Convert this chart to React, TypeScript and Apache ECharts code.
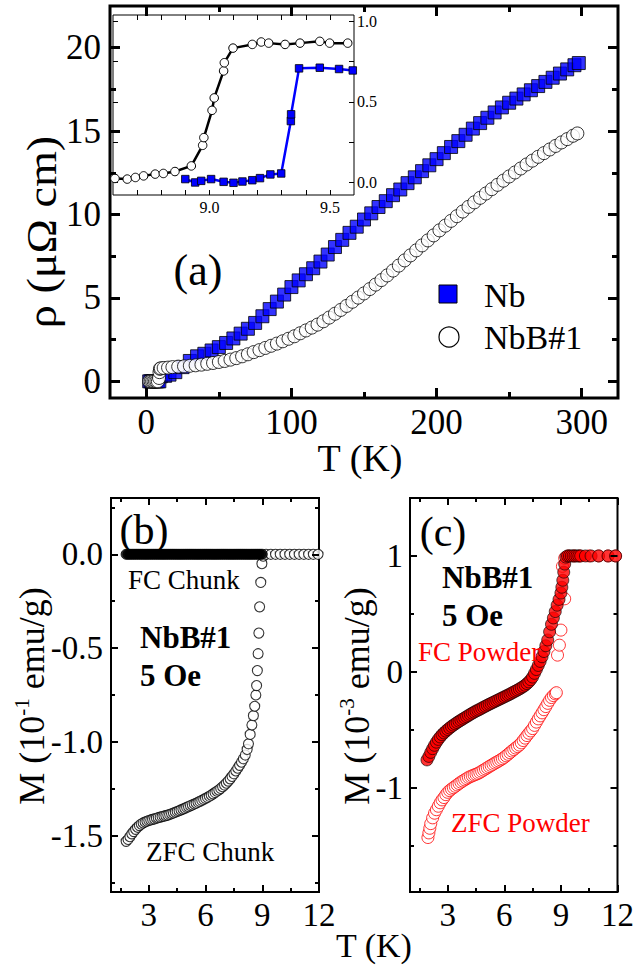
import React, { useEffect, useRef } from "react";
import * as echarts from "echarts";

const FONT = "Liberation Serif";

// ---------- Panel (a): resistivity vs T ----------
const nbRho: number[][] = [
  [2, 0], [3, 0], [4, 0], [5, 0], [6, 0], [7, 0], [8, 0], [9, 0],
  [10, 0.3], [13, 0.33], [16, 0.4], [20, 0.55], [25, 0.85], [30, 1.22], [35, 1.5], [40, 1.65],
  [45, 1.85], [50, 2.05], [55, 2.3], [60, 2.57], [65, 2.86], [70, 3.15], [75, 3.5], [80, 3.9],
  [85, 4.33], [90, 4.78], [95, 5.2], [100, 5.65], [105, 6.05], [110, 6.42], [115, 6.78], [120, 7.18],
  [125, 7.6], [130, 8.05], [135, 8.48], [140, 8.9], [145, 9.27], [150, 9.7], [155, 10.07], [160, 10.45],
  [165, 10.8], [170, 11.16], [175, 11.5], [180, 11.88], [185, 12.23], [190, 12.6], [195, 12.95], [200, 13.32],
  [205, 13.68], [210, 14.05], [215, 14.4], [220, 14.78], [225, 15.15], [230, 15.48], [235, 15.8], [240, 16.12],
  [245, 16.42], [250, 16.7], [255, 16.95], [260, 17.2], [265, 17.45], [270, 17.7], [275, 17.95], [280, 18.2],
  [285, 18.45], [290, 18.7], [295, 18.95], [298, 19.08],
];

const nbbRho: number[][] = [
  [2, 0], [3, 0], [4, 0], [5, 0], [6, 0], [7, 0], [8, 0], [8.8, 0.2], [9.1, 0.55], [9.4, 0.75],
  [10, 0.78], [12, 0.8], [15, 0.82], [18, 0.85], [22, 0.88], [26, 0.9], [30, 0.93], [34, 0.96],
  [38, 1.0], [42, 1.05], [46, 1.1], [50, 1.16], [54, 1.22], [58, 1.3], [62, 1.39], [66, 1.5],
  [70, 1.62], [74, 1.75], [78, 1.87], [82, 2.0], [86, 2.13], [90, 2.26], [94, 2.4], [98, 2.55],
  [102, 2.7], [106, 2.88], [110, 3.05], [114, 3.22], [118, 3.4], [122, 3.6], [126, 3.82], [130, 4.05],
  [134, 4.28], [138, 4.52], [142, 4.77], [146, 5.02], [150, 5.27], [154, 5.53], [158, 5.8], [162, 6.07],
  [166, 6.35], [170, 6.64], [174, 6.94], [178, 7.25], [182, 7.55], [186, 7.85], [190, 8.15], [194, 8.45],
  [198, 8.75], [202, 9.05], [206, 9.33], [210, 9.62], [214, 9.9], [218, 10.18], [222, 10.46], [226, 10.73],
  [230, 11.0], [234, 11.26], [238, 11.52], [242, 11.78], [246, 12.03], [250, 12.28], [254, 12.52], [258, 12.76],
  [262, 13.0], [266, 13.23], [270, 13.46], [274, 13.68], [278, 13.9], [282, 14.11], [286, 14.32], [290, 14.52],
  [294, 14.72], [297, 14.86],
];

// inset (normalised resistance near Tc)
const insetNbB: number[][] = [
  [8.608, 0.023], [8.659, 0.019], [8.693, 0.029], [8.727, 0.039], [8.775, 0.05], [8.809, 0.054],
  [8.857, 0.066], [8.925, 0.101], [8.972, 0.229], [8.977, 0.277], [9.011, 0.447], [9.02, 0.524],
  [9.059, 0.692], [9.062, 0.743], [9.098, 0.834], [9.178, 0.857], [9.215, 0.872], [9.246, 0.865],
  [9.314, 0.857], [9.376, 0.865], [9.458, 0.876], [9.499, 0.865], [9.574, 0.865],
];
const insetNb: number[][] = [
  [8.9, 0.019], [8.941, -0.002], [8.966, 0.008], [9.007, 0.019], [9.059, 0.002], [9.1, -0.004],
  [9.137, 0.004], [9.178, 0.012], [9.21, 0.025], [9.253, 0.048], [9.298, 0.054], [9.338, 0.38],
  [9.339, 0.422], [9.372, 0.708], [9.458, 0.712], [9.538, 0.704], [9.595, 0.695],
];

// ---------- Panel (b): chunk magnetisation (10^-1 emu/g) ----------
const zfcChunk: number[][] = [
  [1.8, -1.53], [1.9, -1.52], [2.0, -1.505], [2.1, -1.49], [2.2, -1.478], [2.3, -1.466], [2.4, -1.455],
  [2.5, -1.446], [2.6, -1.438], [2.7, -1.432], [2.8, -1.427], [2.9, -1.423], [3.0, -1.419], [3.1, -1.416],
  [3.2, -1.413], [3.3, -1.41], [3.4, -1.407], [3.5, -1.404], [3.6, -1.401], [3.7, -1.398], [3.8, -1.396],
  [3.9, -1.393], [4.0, -1.39], [4.1, -1.387], [4.2, -1.383], [4.3, -1.379], [4.4, -1.375], [4.5, -1.371],
  [4.6, -1.367], [4.7, -1.362], [4.8, -1.358], [4.9, -1.354], [5.0, -1.349], [5.1, -1.345], [5.2, -1.34],
  [5.3, -1.336], [5.4, -1.331], [5.5, -1.327], [5.6, -1.322], [5.7, -1.317], [5.8, -1.312], [5.9, -1.307],
  [6.0, -1.301], [6.1, -1.296], [6.2, -1.29], [6.3, -1.284], [6.4, -1.277], [6.5, -1.27], [6.6, -1.263],
  [6.7, -1.256], [6.8, -1.248], [6.9, -1.239], [7.0, -1.23], [7.1, -1.22], [7.2, -1.209], [7.3, -1.197],
  [7.4, -1.184], [7.5, -1.17], [7.6, -1.155], [7.7, -1.14], [7.8, -1.125], [7.9, -1.108], [8.0, -1.09],
  [8.1, -1.07], [8.2, -1.04], [8.27, -1.01], [8.36, -0.96], [8.45, -0.91], [8.53, -0.86], [8.6, -0.81],
  [8.66, -0.75], [8.7, -0.7], [8.74, -0.62], [8.78, -0.53], [8.82, -0.42], [8.86, -0.28], [8.92, -0.15],
  [8.98, -0.05], [9.05, -0.01], [9.2, 0], [9.45, 0], [9.7, 0], [9.95, 0], [10.2, 0], [10.45, 0],
  [10.7, 0], [10.95, 0], [11.2, 0], [11.45, 0], [11.7, 0], [11.95, 0],
];
const fcChunk: number[][] = [
  [1.8, 0], [1.9, 0], [2.0, 0], [2.1, 0], [2.2, 0], [2.3, 0], [2.4, 0], [2.5, 0], [2.6, 0], [2.7, 0],
  [2.8, 0], [2.9, 0], [3.0, 0], [3.1, 0], [3.2, 0], [3.3, 0], [3.4, 0], [3.5, 0], [3.6, 0], [3.7, 0],
  [3.8, 0], [3.9, 0], [4.0, 0], [4.1, 0], [4.2, 0], [4.3, 0], [4.4, 0], [4.5, 0], [4.6, 0], [4.7, 0],
  [4.8, 0], [4.9, 0], [5.0, 0], [5.1, 0], [5.2, 0], [5.3, 0], [5.4, 0], [5.5, 0], [5.6, 0], [5.7, 0],
  [5.8, 0], [5.9, 0], [6.0, 0], [6.1, 0], [6.2, 0], [6.3, 0], [6.4, 0], [6.5, 0], [6.6, 0], [6.7, 0],
  [6.8, 0], [6.9, 0], [7.0, 0], [7.1, 0], [7.2, 0], [7.3, 0], [7.4, 0], [7.5, 0], [7.6, 0], [7.7, 0],
  [7.8, 0], [7.9, 0], [8.0, 0], [8.1, 0], [8.2, 0], [8.3, 0], [8.4, 0], [8.5, 0], [8.6, 0], [8.7, 0],
  [8.8, 0], [8.9, 0], [9.0, 0],
];

// ---------- Panel (c): powder magnetisation (10^-3 emu/g) ----------
const zfcPowder: number[][] = [
  [1.95, -1.43], [2.0, -1.39], [2.05, -1.35], [2.1, -1.31], [2.2, -1.26], [2.3, -1.22], [2.4, -1.19],
  [2.5, -1.16], [2.6, -1.13], [2.7, -1.105], [2.8, -1.085], [2.9, -1.06], [3.0, -1.04], [3.1, -1.025],
  [3.2, -1.012], [3.3, -1.0], [3.4, -0.988], [3.5, -0.976], [3.6, -0.964], [3.7, -0.952], [3.8, -0.942],
  [3.9, -0.932], [4.0, -0.922], [4.1, -0.912], [4.2, -0.904], [4.3, -0.897], [4.4, -0.89], [4.5, -0.884],
  [4.6, -0.877], [4.7, -0.868], [4.8, -0.858], [4.9, -0.848], [5.0, -0.838], [5.1, -0.828], [5.2, -0.818],
  [5.3, -0.808], [5.4, -0.798], [5.5, -0.788], [5.6, -0.779], [5.7, -0.77], [5.8, -0.76], [5.9, -0.75],
  [6.0, -0.738], [6.1, -0.725], [6.2, -0.712], [6.3, -0.698], [6.4, -0.684], [6.5, -0.671], [6.6, -0.658],
  [6.7, -0.645], [6.8, -0.632], [6.9, -0.613], [7.0, -0.593], [7.1, -0.572], [7.2, -0.55], [7.3, -0.53],
  [7.4, -0.51], [7.5, -0.49], [7.6, -0.462], [7.7, -0.434], [7.8, -0.406], [7.9, -0.38], [8.0, -0.354],
  [8.1, -0.327], [8.2, -0.3], [8.3, -0.272], [8.4, -0.246], [8.5, -0.222], [8.6, -0.205], [8.7, -0.19],
  [8.76, -0.18], [8.82, 0.144], [8.92, 0.23], [9.0, 0.36], [9.2, 0.63], [9.08, 0.91], [9.2, 0.98],
  [9.4, 1.0], [9.7, 1.0], [10.0, 1.0], [10.5, 1.0], [11.0, 1.0], [11.5, 1.0], [11.9, 1.0],
];
const fcPowder: number[][] = [
  [1.9, -0.76], [2.0, -0.73], [2.1, -0.695], [2.2, -0.663], [2.3, -0.634], [2.4, -0.607], [2.5, -0.583],
  [2.6, -0.562], [2.7, -0.543], [2.8, -0.527], [2.9, -0.512], [3.0, -0.498], [3.1, -0.485], [3.2, -0.472],
  [3.3, -0.46], [3.4, -0.449], [3.5, -0.438], [3.6, -0.427], [3.7, -0.417], [3.8, -0.407], [3.9, -0.397],
  [4.0, -0.387], [4.1, -0.377], [4.2, -0.367], [4.3, -0.357], [4.4, -0.348], [4.5, -0.339], [4.6, -0.331],
  [4.7, -0.323], [4.8, -0.314], [4.9, -0.305], [5.0, -0.297], [5.1, -0.288], [5.2, -0.28], [5.3, -0.272],
  [5.4, -0.264], [5.5, -0.256], [5.6, -0.248], [5.7, -0.24], [5.8, -0.232], [5.9, -0.224], [6.0, -0.216],
  [6.1, -0.208], [6.2, -0.2], [6.3, -0.192], [6.4, -0.183], [6.5, -0.174], [6.6, -0.166], [6.7, -0.157],
  [6.8, -0.148], [6.9, -0.138], [7.0, -0.128], [7.1, -0.116], [7.2, -0.102], [7.3, -0.087], [7.4, -0.068],
  [7.5, -0.045], [7.6, -0.013], [7.7, 0.02], [7.8, 0.055], [7.9, 0.09], [8.0, 0.13], [8.1, 0.175],
  [8.2, 0.225], [8.3, 0.275], [8.4, 0.345], [8.5, 0.41], [8.6, 0.465], [8.7, 0.52], [8.8, 0.575],
  [8.9, 0.625], [9.0, 0.68], [9.05, 0.73], [9.1, 0.79], [9.15, 0.86], [9.2, 0.93], [9.26, 0.99],
  [9.35, 1.0], [9.45, 1.0], [9.55, 1.0], [9.65, 1.0], [9.75, 1.0], [9.85, 1.0], [9.95, 1.0],
  [10.05, 1.0], [10.3, 1.0], [10.6, 1.0], [11.0, 1.0], [11.5, 1.0], [11.9, 1.0],
];

// ---------- tick values ----------
const aXMajor = [0, 100, 200, 300];
const aXMinor = [50, 150, 250];
const aYMajor = [0, 5, 10, 15, 20];
const aYMinor = [2.5, 7.5, 12.5, 17.5];
const inXTicks = [8.7, 8.8, 8.9, 9.0, 9.1, 9.2, 9.3, 9.4, 9.5];
const inXLabels = [9.0, 9.5];
const inYTicks = [0, 0.25, 0.5, 0.75, 1.0];
const inYLabels = [0, 0.5, 1.0];
const mXMajor = [3, 6, 9, 12];
const mXMinor = [1.5, 4.5, 7.5, 10.5];
const bYMajor = [0, -0.5, -1.0, -1.5];
const bYMinor = [0.25, -0.25, -0.75, -1.25, -1.75];
const cYMajor = [1, 0, -1];
const cYMinor = [0.5, -0.5, -1.5];

type Lbl = { values: number[]; fmt: (v: number) => string; size: number; margin: number } | null;

function ax(gridIndex: number, position: string, min: number, max: number, ticks: number[], len: number, width: number, lbl: Lbl, z = 5) {
  return {
    type: "value",
    gridIndex,
    position,
    min,
    max,
    z,
    axisLine: { show: false, onZero: false },
    splitLine: { show: false },
    axisTick: { show: true, inside: true, length: len, customValues: ticks, lineStyle: { color: "#000", width } },
    axisLabel: lbl
      ? { show: true, customValues: lbl.values, formatter: lbl.fmt, fontSize: lbl.size, fontFamily: FONT, color: "#000", margin: lbl.margin }
      : { show: false },
  };
}

const int = (v: number) => String(v);
const f1 = (v: number) => v.toFixed(1);

function buildOption() {
  const xAxis: any[] = [];
  const yAxis: any[] = [];
  // main (a)  grid 0
  xAxis.push(ax(0, "bottom", -25, 325, aXMajor, 10, 3, { values: aXMajor, fmt: int, size: 35, margin: 7 })); // 0
  xAxis.push(ax(0, "bottom", -25, 325, aXMinor, 6, 3, null)); // 1
  xAxis.push(ax(0, "top", -25, 325, aXMajor, 10, 3, null)); // 2
  xAxis.push(ax(0, "top", -25, 325, aXMinor, 6, 3, null)); // 3
  yAxis.push(ax(0, "left", -1, 22.5, aYMajor, 10, 3, { values: aYMajor, fmt: int, size: 35, margin: 9 })); // 0
  yAxis.push(ax(0, "left", -1, 22.5, aYMinor, 6, 3, null)); // 1
  yAxis.push(ax(0, "right", -1, 22.5, aYMajor, 10, 3, null)); // 2
  yAxis.push(ax(0, "right", -1, 22.5, aYMinor, 6, 3, null)); // 3
  // inset grid 1
  xAxis.push(ax(1, "bottom", 8.6, 9.6, inXTicks, 5, 1, { values: inXLabels, fmt: f1, size: 16, margin: 4 }, 6)); // 4
  xAxis.push(ax(1, "top", 8.6, 9.6, inXTicks, 5, 1, null, 6)); // 5
  yAxis.push(ax(1, "right", -0.08, 1.04, inYTicks, 5, 1, { values: inYLabels, fmt: f1, size: 16, margin: 3 }, 6)); // 4
  yAxis.push(ax(1, "left", -0.08, 1.04, inYTicks, 5, 1, null, 6)); // 5
  // (b) grid 2
  xAxis.push(ax(2, "bottom", 1, 12, mXMajor, 7, 2, { values: mXMajor, fmt: int, size: 33, margin: 6 })); // 6
  xAxis.push(ax(2, "bottom", 1, 12, mXMinor, 4, 2, null)); // 7
  xAxis.push(ax(2, "top", 1, 12, mXMajor, 7, 2, null)); // 8
  xAxis.push(ax(2, "top", 1, 12, mXMinor, 4, 2, null)); // 9
  yAxis.push(ax(2, "left", -1.8, 0.3, bYMajor, 7, 2, { values: bYMajor, fmt: f1, size: 33, margin: 8 })); // 6
  yAxis.push(ax(2, "left", -1.8, 0.3, bYMinor, 4, 2, null)); // 7
  yAxis.push(ax(2, "right", -1.8, 0.3, bYMajor, 7, 2, null)); // 8
  yAxis.push(ax(2, "right", -1.8, 0.3, bYMinor, 4, 2, null)); // 9
  // (c) grid 3
  xAxis.push(ax(3, "bottom", 1, 12, mXMajor, 7, 2, { values: mXMajor, fmt: int, size: 33, margin: 6 })); // 10
  xAxis.push(ax(3, "bottom", 1, 12, mXMinor, 4, 2, null)); // 11
  xAxis.push(ax(3, "top", 1, 12, mXMajor, 7, 2, null)); // 12
  xAxis.push(ax(3, "top", 1, 12, mXMinor, 4, 2, null)); // 13
  yAxis.push(ax(3, "left", -1.9, 1.5, cYMajor, 7, 2, { values: cYMajor, fmt: int, size: 33, margin: 7 })); // 10
  yAxis.push(ax(3, "left", -1.9, 1.5, cYMinor, 4, 2, null)); // 11
  yAxis.push(ax(3, "right", -1.9, 1.5, cYMajor, 7, 2, null)); // 12
  yAxis.push(ax(3, "right", -1.9, 1.5, cYMinor, 4, 2, null)); // 13

  const txt = (text: string, x: number, y: number, size: number, opts: any = {}) => ({
    type: "text",
    x,
    y,
    z: 20,
    rotation: opts.rotation || 0,
    scaleX: opts.scaleX || 1,
    scaleY: opts.scaleY || 1,
    style: {
      text,
      fontSize: size,
      fontFamily: FONT,
      fontWeight: opts.bold ? "bold" : "normal",
      fill: opts.color || "#000",
      align: opts.align || "left",
      textAlign: opts.align || "left",
      verticalAlign: "middle",
      textVerticalAlign: "middle",
      rich: opts.rich,
    },
  });

  const richM = {
    a: { fontSize: 36, fontFamily: FONT, lineHeight: 42, fill: "#000" },
    s: { fontSize: 21, fontFamily: FONT, lineHeight: 42, verticalAlign: "top", fill: "#000" },
  };

  const graphic = [
    txt("(a)", 198, 270, 44, { align: "center" }),
    { type: "rect", z: 20, shape: { x: 439, y: 285, width: 18, height: 18 }, style: { fill: "#0000FF", stroke: "#000", lineWidth: 1 } },
    { type: "circle", z: 20, shape: { cx: 449, cy: 337, r: 10 }, style: { fill: "#fff", stroke: "#000", lineWidth: 1.2 } },
    txt("Nb", 484, 295, 34),
    txt("NbB#1", 484, 337, 34),
    txt("T (K)", 360, 458, 38, { align: "center" }),
    txt("ρ (μΩ cm)", 42, 232, 42, { align: "center", rotation: Math.PI / 2, scaleX: 1.1 }),
    txt("(b)", 144, 530, 42, { align: "center" }),
    txt("FC Chunk", 128, 580, 27),
    txt("NbB#1", 140, 637, 31, { bold: true }),
    txt("5 Oe", 140, 675, 31, { bold: true }),
    txt("ZFC Chunk", 146, 852, 27),
    txt("(c)", 443, 532, 42, { align: "center" }),
    txt("NbB#1", 442, 577, 31, { bold: true }),
    txt("5 Oe", 442, 615, 31, { bold: true }),
    txt("FC Powder", 418, 652, 27, { color: "#FF0000" }),
    txt("ZFC Powder", 451, 823, 27, { color: "#FF0000" }),
    txt("T (K)", 374, 945, 34, { align: "center" }),
    txt("{a|M (10}{s|-1}{a| emu/g)}", 32, 696, 36, { align: "center", rotation: Math.PI / 2, rich: richM }),
    txt("{a|M (10}{s|-3}{a| emu/g)}", 357, 696, 36, { align: "center", rotation: Math.PI / 2, rich: richM }),
  ];

  return {
    animation: false,
    backgroundColor: "#fff",
    textStyle: { fontFamily: FONT },
    grid: [
      { left: 110, top: 6, width: 508, height: 392, show: true, borderColor: "#000", borderWidth: 3, backgroundColor: "transparent", z: 0 },
      { left: 113, top: 15, width: 241, height: 180, show: true, borderColor: "#000", borderWidth: 1, backgroundColor: "#fff", z: 1 },
      { left: 111, top: 498, width: 208, height: 394, show: true, borderColor: "#000", borderWidth: 2, z: 0 },
      { left: 410, top: 498, width: 208, height: 394, show: true, borderColor: "#000", borderWidth: 2, z: 0 },
    ],
    xAxis,
    yAxis,
    series: [
      {
        name: "Nb", type: "scatter", xAxisIndex: 0, yAxisIndex: 0, symbol: "rect", symbolSize: 13,
        itemStyle: { color: "#0000FF", borderColor: "#000", borderWidth: 1 }, data: nbRho,
      },
      {
        name: "NbB#1", type: "scatter", xAxisIndex: 0, yAxisIndex: 0, symbol: "circle", symbolSize: 13,
        itemStyle: { color: "#fff", borderColor: "#000", borderWidth: 1 }, data: nbbRho,
      },
      {
        name: "inset NbB#1", type: "line", xAxisIndex: 4, yAxisIndex: 4, symbol: "circle", symbolSize: 8.5, showSymbol: true, z: 7,
        lineStyle: { color: "#000", width: 2.5 }, itemStyle: { color: "#fff", borderColor: "#000", borderWidth: 1 }, data: insetNbB,
      },
      {
        name: "inset Nb", type: "line", xAxisIndex: 4, yAxisIndex: 4, symbol: "rect", symbolSize: 7.5, showSymbol: true, z: 7,
        lineStyle: { color: "#0000FF", width: 2.5 }, itemStyle: { color: "#0000FF", borderColor: "#000", borderWidth: 0.8 }, data: insetNb,
      },
      {
        name: "ZFC Chunk", type: "scatter", xAxisIndex: 6, yAxisIndex: 6, symbol: "circle", symbolSize: 10,
        itemStyle: { color: "#fff", borderColor: "#000", borderWidth: 1.1 }, data: zfcChunk,
      },
      {
        name: "FC Chunk", type: "scatter", xAxisIndex: 6, yAxisIndex: 6, symbol: "circle", symbolSize: 10,
        itemStyle: { color: "#000", borderColor: "#000", borderWidth: 1 }, data: fcChunk,
      },
      {
        name: "ZFC Powder", type: "scatter", xAxisIndex: 10, yAxisIndex: 10, symbol: "circle", symbolSize: 12,
        itemStyle: { color: "#fff", borderColor: "#FF0000", borderWidth: 1 }, data: zfcPowder,
      },
      {
        name: "FC Powder", type: "scatter", xAxisIndex: 10, yAxisIndex: 10, symbol: "circle", symbolSize: 12,
        itemStyle: { color: "#FF0000", borderColor: "#000", borderWidth: 0.8 }, data: fcPowder,
      },
    ],
    graphic,
  };
}

export default function App() {
  const ref = useRef<HTMLDivElement>(null);
  useEffect(() => {
    if (!ref.current) return;
    const chart = echarts.init(ref.current, undefined, { renderer: "svg" });
    chart.setOption(buildOption() as any);
    return () => chart.dispose();
  }, []);
  return <div ref={ref} style={{ position: "absolute", left: 0, top: 0, width: 637, height: 966 }} />;
}
